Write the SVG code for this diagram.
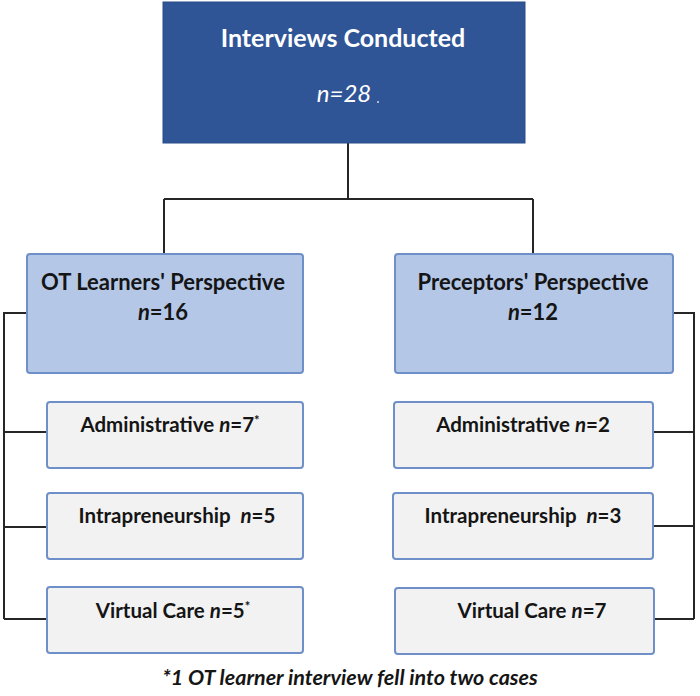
<svg xmlns="http://www.w3.org/2000/svg" width="700" height="696" viewBox="0 0 700 696">
<style>
.t{font-family:Lato,"Open Sans","Liberation Sans",sans-serif;font-weight:bold;text-anchor:middle;fill:#151515}
.w{fill:#ffffff}
.sub{fill:#B4C7E7;stroke:#6F8FC8;stroke-width:2}
.leaf{fill:#F2F2F2;stroke:#6F8FC8;stroke-width:2}
.c{fill:none;stroke:#262626;stroke-width:2}
.s{font-size:22px}
.l{font-size:20.5px}
</style>
<rect width="700" height="696" fill="#ffffff"/>
<g id="connectors">
<path class="c" d="M348,143 V199 M164,199 H533 M164,199 V254 M533,199 V254"/>
<path class="c" d="M27,313 H4 V619 M4,432 H47 M4,527 H47 M4,619 H47"/>
<path class="c" d="M673,313 H694 V619 M653,432 H694 M653,526 H694 M654,619 H694"/>
</g>
<g id="root">
<rect x="163" y="2" width="362" height="141" fill="#2F5597" stroke="#2A4C88" stroke-width="1"/>
<text class="t w" x="343" y="47" font-size="25">Interviews Conducted</text>
<text class="t w" x="344" y="102" font-size="24" style="font-style:italic;font-weight:normal">n=28</text>
<circle cx="378" cy="102" r="1" fill="#dddddd"/>
</g>
<g id="ot">
<rect class="sub" x="27" y="254" width="276" height="119" rx="3"/>
<text class="t s" x="163" y="290">OT Learners' Perspective</text>
<text class="t s" x="163" y="320"><tspan font-style="italic">n</tspan>=16</text>
</g>
<g id="prec">
<rect class="sub" x="395" y="254" width="278" height="119" rx="3"/>
<text class="t s" x="533" y="290">Preceptors' Perspective</text>
<text class="t s" x="533" y="320"><tspan font-style="italic">n</tspan>=12</text>
</g>
<g id="ot-admin">
<rect class="leaf" x="47" y="402" width="256" height="66" rx="3"/>
<text class="t l" x="170" y="432">Administrative <tspan font-style="italic">n</tspan>=7<tspan font-size="13" dy="-7">*</tspan></text>
</g>
<g id="ot-intra">
<rect class="leaf" x="47" y="493" width="256" height="66" rx="3"/>
<text class="t l" x="177" y="523" xml:space="preserve">Intrapreneurship  <tspan font-style="italic">n</tspan>=5</text>
</g>
<g id="ot-virtual">
<rect class="leaf" x="47" y="587" width="256" height="66" rx="3"/>
<text class="t l" x="173" y="618">Virtual Care <tspan font-style="italic">n</tspan>=5<tspan font-size="13" dy="-7">*</tspan></text>
</g>
<g id="pr-admin">
<rect class="leaf" x="394" y="402" width="259" height="66" rx="3"/>
<text class="t l" x="523" y="432">Administrative <tspan font-style="italic">n</tspan>=2</text>
</g>
<g id="pr-intra">
<rect class="leaf" x="393" y="493" width="260" height="66" rx="3"/>
<text class="t l" x="523" y="523" xml:space="preserve">Intrapreneurship  <tspan font-style="italic">n</tspan>=3</text>
</g>
<g id="pr-virtual">
<rect class="leaf" x="395" y="588" width="259" height="66" rx="3"/>
<text class="t l" x="532" y="618">Virtual Care <tspan font-style="italic">n</tspan>=7</text>
</g>
<text class="t" x="350" y="685" font-size="21.5" font-style="italic">*1 OT learner interview fell into two cases</text>
</svg>
